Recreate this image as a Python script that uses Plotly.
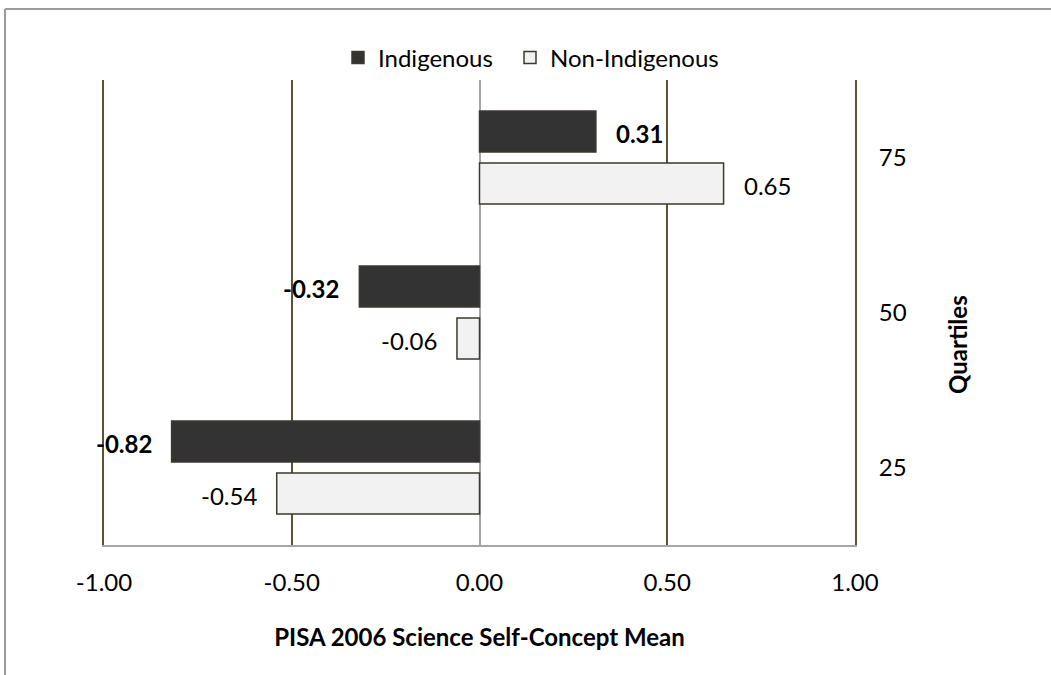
import plotly.graph_objects as go

categories = ["25", "50", "75"]
indigenous = [-0.82, -0.32, 0.31]
non_indigenous = [-0.54, -0.06, 0.65]
x_ticks = [-1.0, -0.5, 0.0, 0.5, 1.0]
x_tick_labels = ["-1.00", "-0.50", "0.00", "0.50", "1.00"]

FONT = "Lato, 'Open Sans', sans-serif"
FS = 24
W, H = 1051, 675
L, R, T, B = 104, 855, 80, 545  # plot area in px
GRID = "#5B5338"

fig = go.Figure()
fig.add_trace(go.Bar(
    y=categories, x=non_indigenous, orientation="h", name="Non-Indigenous",
    marker=dict(color="#F2F2F2", line=dict(color="#3D3A2C", width=1.5)),
    legendrank=2, legendwidth=200, hoverinfo="x+y",
))
fig.add_trace(go.Bar(
    y=categories, x=indigenous, orientation="h", name="Indigenous",
    marker=dict(color="#333333", line=dict(color="#3D3A2C", width=1.5)),
    legendrank=1, legendwidth=127, hoverinfo="x+y",
))

annotations = []
for i, v in enumerate(indigenous):
    annotations.append(dict(
        x=v, y=i, xref="x", yref="y", text=f"<b>{v:.2f}</b>", showarrow=False,
        xanchor="left" if v >= 0 else "right", xshift=18 if v >= 0 else -18,
        yshift=24, font=dict(family=FONT, size=FS, color="#000000")))
for i, v in enumerate(non_indigenous):
    annotations.append(dict(
        x=v, y=i, xref="x", yref="y", text=f"{v:.2f}", showarrow=False,
        xanchor="left" if v >= 0 else "right", xshift=18 if v >= 0 else -18,
        yshift=-28, font=dict(family=FONT, size=FS, color="#000000")))

def px_to_paper_x(px):
    return (px - L) / (R - L)

def px_to_paper_y(py):
    return (B - py) / (B - T)

# y-axis title placed like the reference (lower than the plot centre)
annotations.append(dict(
    x=px_to_paper_x(958), y=px_to_paper_y(345), xref="paper", yref="paper",
    text="<b>Quartiles</b>", textangle=-90, showarrow=False,
    xanchor="center", yanchor="middle",
    font=dict(family=FONT, size=FS, color="#000000")))

shapes = [
    dict(type="line", xref="paper", yref="paper",
         x0=px_to_paper_x(5), x1=px_to_paper_x(5),
         y0=px_to_paper_y(9), y1=px_to_paper_y(675),
         line=dict(color="#9A9A9A", width=2)),
    dict(type="line", xref="paper", yref="paper",
         x0=px_to_paper_x(5), x1=px_to_paper_x(1051),
         y0=px_to_paper_y(9), y1=px_to_paper_y(9),
         line=dict(color="#9A9A9A", width=2)),
]

fig.update_layout(
    width=W, height=H,
    margin=dict(l=L, r=W - R, t=T, b=H - B, autoexpand=False),
    paper_bgcolor="white", plot_bgcolor="white",
    font=dict(family=FONT, size=FS, color="#000000"),
    barmode="group", bargap=0.33, bargroupgap=0.21,
    showlegend=True,
    legend=dict(orientation="h", x=px_to_paper_x(338), xanchor="left",
                y=px_to_paper_y(58), yanchor="middle",
                font=dict(family=FONT, size=FS, color="#000000"),
                itemwidth=30, bgcolor="rgba(0,0,0,0)"),
    annotations=annotations,
    shapes=shapes,
)
fig.update_xaxes(
    range=[-1, 1], tickvals=x_ticks, ticktext=x_tick_labels,
    showgrid=True, gridcolor=GRID, gridwidth=2,
    zeroline=True, zerolinecolor="#A6A6A6", zerolinewidth=2,
    showline=True, linecolor="#A6A6A6", linewidth=2,
    ticks="", ticklabelstandoff=15,
    tickfont=dict(family=FONT, size=FS, color="#000000"),
    title=dict(text="<b>PISA 2006 Science Self-Concept Mean</b>", standoff=34,
               font=dict(family=FONT, size=FS, color="#000000")),
    fixedrange=True,
)
fig.update_yaxes(
    type="category", categoryorder="array", categoryarray=categories,
    range=[-0.5, 2.5], autorange=False,
    side="right", showgrid=False, zeroline=False,
    showline=True, linecolor=GRID, linewidth=2, mirror=True,
    ticks="", ticklabelstandoff=17,
    tickfont=dict(family=FONT, size=FS, color="#000000"),
    fixedrange=True,
)

fig.write_html("out.html", config={"displayModeBar": False},
               post_script="document.body.style.margin='0';")
